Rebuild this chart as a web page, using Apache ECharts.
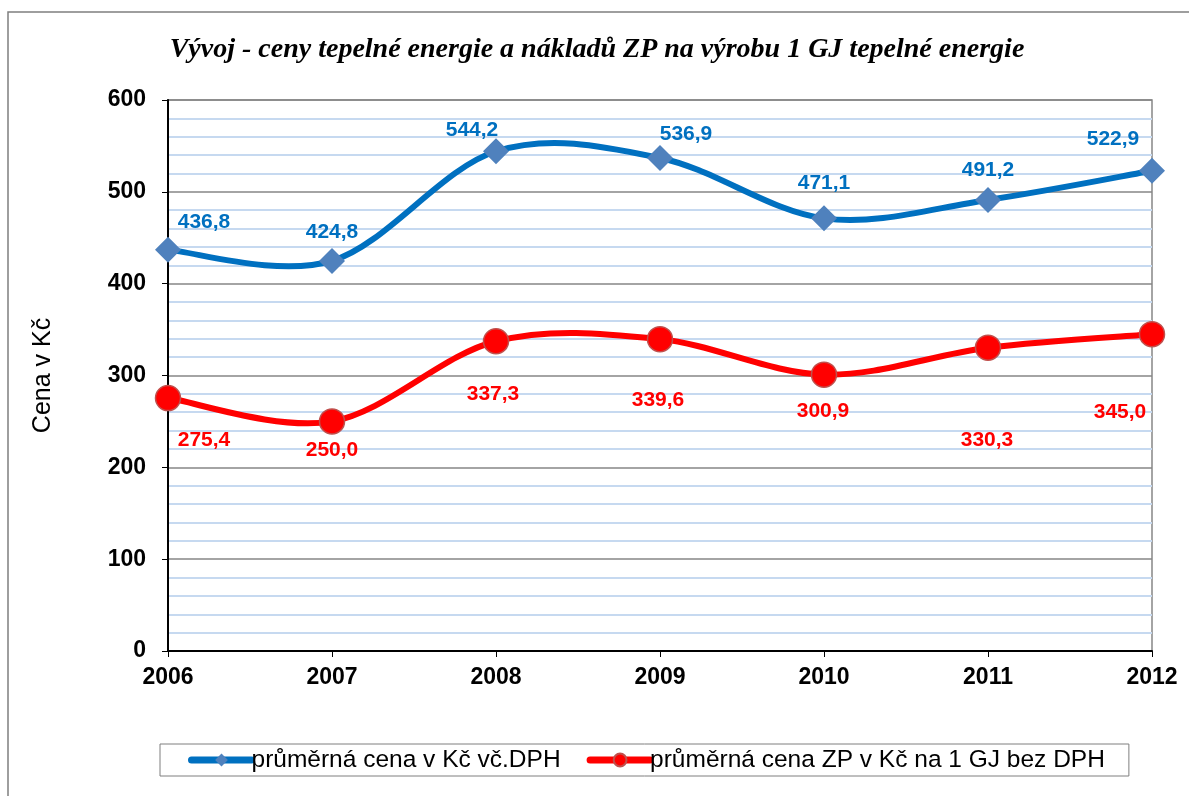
<!DOCTYPE html>
<html>
<head>
<meta charset="utf-8">
<script src="https://cdn.jsdelivr.net/npm/echarts@6/dist/echarts.min.js"></script>
<style>
  html, body { margin: 0; padding: 0; background: #fff; }
  #chart { width: 1189px; height: 796px; }
</style>
</head>
<body>
<div id="chart"></div>
<script>
// roky a hodnoty (Kč za 1 GJ)
const years = ['2006', '2007', '2008', '2009', '2010', '2011', '2012'];
const prumernaCena = [436.8, 424.8, 544.2, 536.9, 471.1, 491.2, 522.9];
const cenaZP = [275.4, 250.0, 337.3, 339.6, 300.9, 330.3, 345.0];
const yTicks = [0, 100, 200, 300, 400, 500, 600];

const nameModra = 'průměrná cena v Kč vč.DPH';
const nameCervena = 'průměrná cena ZP v Kč na 1 GJ bez DPH';

// posuny popisků [x, y] v px
const blueLabelOffsets = [[36, -28], [0, -29], [-24, -21], [26, -24], [0, -35], [0, -30], [-39, -32]];
const redLabelOffsets = [[36, 42], [0, 29], [-3, 53], [-2, 61], [-1, 37], [-1, 93], [-32, 78]];

const fmt = v => v.toFixed(1).replace('.', ',');

// hladka krivka jako v Excelu (Catmull-Rom -> Bezier), body prepocitane pres osy
function smoothSegment(values, color) {
  return function (params, api) {
    const i = params.dataIndex;
    const n = values.length;
    if (i >= n - 1) return null;
    const pt = k => api.coord([Math.min(Math.max(k, 0), n - 1), values[Math.min(Math.max(k, 0), n - 1)]]);
    const p0 = pt(i - 1), p1 = pt(i), p2 = pt(i + 1), p3 = pt(i + 2);
    return {
      type: 'bezierCurve',
      shape: {
        x1: p1[0], y1: p1[1],
        cpx1: p1[0] + (p2[0] - p0[0]) / 6, cpy1: p1[1] + (p2[1] - p0[1]) / 6,
        cpx2: p2[0] - (p3[0] - p1[0]) / 6, cpy2: p2[1] - (p3[1] - p1[1]) / 6,
        x2: p2[0], y2: p2[1]
      },
      style: { stroke: color, lineWidth: 6, fill: null, lineCap: 'round' }
    };
  };
}

const chart = echarts.init(document.getElementById('chart'));

const labelBase = {
  show: true,
  position: 'inside',
  formatter: p => fmt(p.value),
  fontFamily: 'Liberation Sans',
  fontWeight: 'bold',
  fontSize: 21
};

const option = {
  backgroundColor: '#fff',
  animation: false,
  title: {
    text: 'Vývoj - ceny tepelné energie a nákladů ZP na výrobu 1 GJ tepelné energie',
    left: 592,
    textAlign: 'center',
    top: 31,
    textStyle: {
      fontFamily: 'Liberation Serif',
      fontStyle: 'italic',
      fontWeight: 'bold',
      fontSize: 28,
      color: '#000'
    }
  },
  graphic: [{
    type: 'rect',
    shape: { x: 8, y: 12, width: 1200, height: 800 },
    style: { fill: 'none', stroke: '#7f7f7f', lineWidth: 1.5 },
    silent: true
  }],
  grid: {
    left: 168, right: 37, top: 100, bottom: 145,
    show: true, borderColor: '#868686', borderWidth: 1.5
  },
  legend: {
    top: 744,
    left: 160,
    padding: [3, 24, 3, 28],
    itemGap: 26,
    itemWidth: 60,
    itemHeight: 16,
    borderColor: '#7f7f7f',
    borderWidth: 1,
    data: [
      { name: nameModra, lineStyle: { color: '#0070c0', width: 7, opacity: 1, cap: 'round' } },
      { name: nameCervena, lineStyle: { color: '#ff0000', width: 7, opacity: 1, cap: 'round' } }
    ],
    textStyle: { fontFamily: 'Liberation Sans', fontSize: 24.5, lineHeight: 26, color: '#000', padding: [0, 0, 0, -5] }
  },
  xAxis: {
    type: 'category',
    data: years,
    boundaryGap: false,
    axisLine: { lineStyle: { color: '#000', width: 2 } },
    axisTick: { show: true, length: 6, lineStyle: { color: '#000' } },
    axisLabel: { fontFamily: 'Liberation Sans', fontWeight: 'bold', fontSize: 23, color: '#000', margin: 15 },
    splitLine: { show: false }
  },
  yAxis: {
    type: 'value',
    min: yTicks[0],
    max: yTicks[yTicks.length - 1],
    interval: 100,
    name: 'Cena v Kč',
    nameLocation: 'middle',
    nameGap: 112,
    nameTextStyle: { fontFamily: 'Liberation Sans', fontSize: 25, color: '#000' },
    axisLine: { show: true, lineStyle: { color: '#000', width: 2 } },
    axisTick: { show: true, length: 6, lineStyle: { color: '#000' } },
    axisLabel: { fontFamily: 'Liberation Sans', fontWeight: 'bold', fontSize: 23, color: '#000', margin: 22 },
    splitLine: { show: true, lineStyle: { color: '#868686', width: 1.5 } },
    minorTick: { show: false, splitNumber: 5 },
    minorSplitLine: { show: true, lineStyle: { color: '#c6d9f0', width: 2 } }
  },
  series: [
    {
      name: 'krivka-modra',
      type: 'custom',
      data: prumernaCena.map((v, i) => [i, v]),
      encode: { x: 0, y: 1 },
      renderItem: smoothSegment(prumernaCena, '#0070c0'),
      z: 2
    },
    {
      name: 'krivka-cervena',
      type: 'custom',
      data: cenaZP.map((v, i) => [i, v]),
      encode: { x: 0, y: 1 },
      renderItem: smoothSegment(cenaZP, '#ff0000'),
      z: 2
    },
    {
      name: nameModra,
      type: 'line',
      data: prumernaCena.map((v, i) => ({
        value: v,
        label: { offset: blueLabelOffsets[i] }
      })),
      symbol: 'diamond',
      symbolSize: 26,
      lineStyle: { color: '#0070c0', width: 6, opacity: 0 },
      itemStyle: { color: '#4f81bd' },
      label: Object.assign({}, labelBase, { color: '#0070c0' }),
      z: 3
    },
    {
      name: nameCervena,
      type: 'line',
      data: cenaZP.map((v, i) => ({
        value: v,
        label: { offset: redLabelOffsets[i] }
      })),
      symbol: 'circle',
      symbolSize: 25,
      lineStyle: { color: '#ff0000', width: 6, opacity: 0 },
      itemStyle: { color: '#ff0000', borderColor: '#c0504d', borderWidth: 1.5 },
      label: Object.assign({}, labelBase, { color: '#ff0000' }),
      z: 3
    }
  ]
};

chart.setOption(option);
window.addEventListener('resize', () => chart.resize());
</script>
</body>
</html>
